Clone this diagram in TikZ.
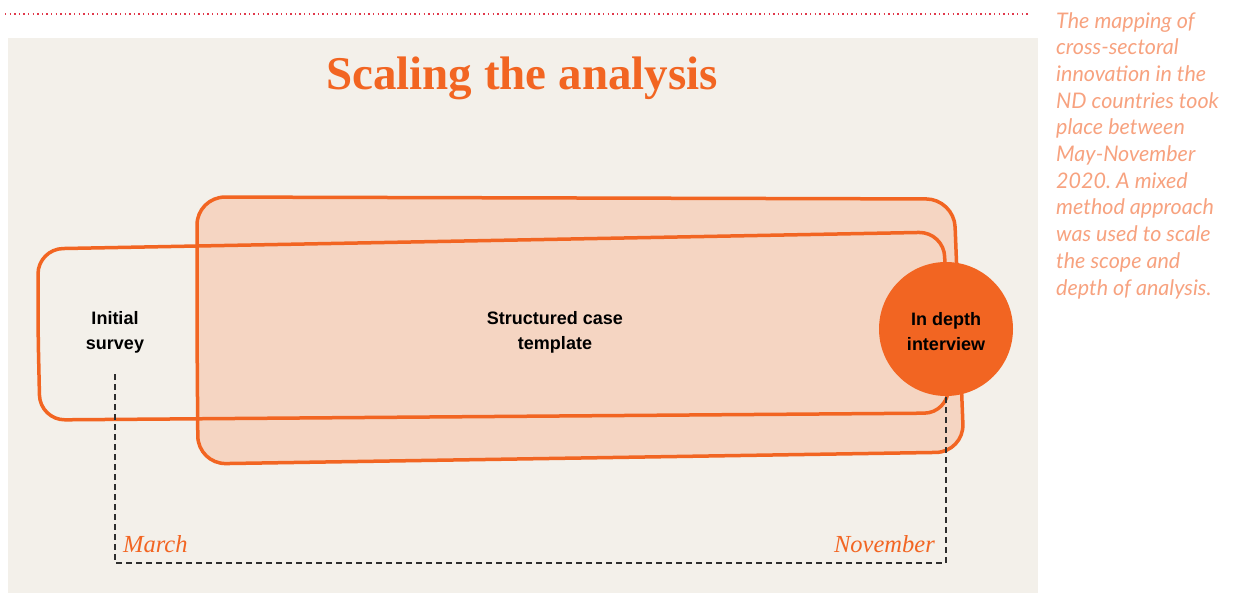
\documentclass[tikz,border=0pt]{standalone}
\usepackage{fontspec}
\setmainfont{Liberation Serif}
\setsansfont{Liberation Sans}
\newfontfamily\notefont{Lato}
\usepackage{tikz}
\usetikzlibrary{positioning}

\definecolor{brand}{HTML}{F26522}
\definecolor{brandlight}{HTML}{F5D5C2}
\definecolor{paper}{HTML}{F3F0EA}
\definecolor{rule}{HTML}{E0394B}
\definecolor{notecol}{HTML}{F7A27F}
\definecolor{ink}{HTML}{2E2E2E}

\begin{document}
\frenchspacing
\begin{tikzpicture}[
    x=1pt, y=-1pt,
    stage/.style={
        align=center,
        font=\sffamily\bfseries\fontsize{18}{25}\selectfont,
        text=black
    },
    blob/.style={
        draw=brand,
        line width=3.5pt,
        rounded corners=28pt
    },
    month/.style={
        font=\itshape\fontsize{24.5}{28}\selectfont,
        text=brand,
        inner sep=0pt
    },
    timeline/.style={
        draw=ink,
        line width=1.6pt,
        dash pattern=on 6pt off 4pt
    }
]
    \useasboundingbox (0,0) rectangle (1245,593);
    \fill[paper] (8,38) rectangle (1038,593);
    \draw[rule, line width=2pt, dash pattern=on 1.4pt off 3.2pt] (5,14) -- (1030,14);

    \node[font=\bfseries\fontsize{47}{50}\selectfont, text=brand] (title) at (522,78) {Scaling the analysis};

    \node[anchor=north west, align=left, inner sep=0pt, text=notecol,
          font=\notefont\itshape\fontsize{21.5}{26.7}\selectfont] (note) at (1056,12)
        {The mapping of\\cross-sectoral\\innovation in the\\ND countries took\\place between\\May-November\\2020. A mixed\\method approach\\was used to scale\\the scope and\\depth of analysis.};

    % the three overlapping stages
    \draw[blob, fill=brandlight] (197,330) -- (197,197) -- (954,199) -- (964,452) -- (198,464) -- cycle;
    \draw[blob, rounded corners=25pt] (38,330) -- (38,249) -- (944,232) -- (949,413) -- (40,420) -- cycle;
    \node[circle, fill=brand, minimum size=134pt, inner sep=0pt] (interview) at (946,329) {};
    \node[stage] at (946,332) {In depth\\interview};
    \node[stage] (survey) at (115,332) {Initial\\survey};
    \node[stage] (template) at (555,332) {Structured case\\template};

    % time span
    \coordinate (base) at (0,563);
    \draw[timeline] ([yshift=-18pt]survey.south) |- (base -| interview.south) -- (interview.south);
    \node[month, anchor=base west] (march) at (123,552) {March};
    \node[month, anchor=base east] (november) at (935,552) {November};
\end{tikzpicture}
\end{document}
